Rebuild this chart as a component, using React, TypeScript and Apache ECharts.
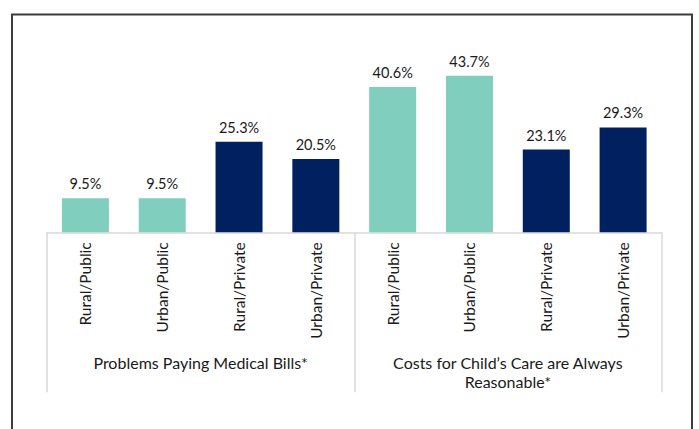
import React, { useEffect, useRef } from "react";
import * as echarts from "echarts";

const categories = [
  "Rural/Public",
  "Urban/Public",
  "Rural/Private",
  "Urban/Private",
  "Rural/Public",
  "Urban/Public",
  "Rural/Private",
  "Urban/Private",
];
const values = [9.5, 9.5, 25.3, 20.5, 40.6, 43.7, 23.1, 29.3];
const groups = [
  "Problems Paying Medical Bills*",
  "Costs for Child\u2019s Care are Always\nReasonable*",
];

const PUBLIC_COLOR = "#80CEBD";
const PRIVATE_COLOR = "#002060";

export default function App() {
  const ref = useRef<HTMLDivElement>(null);
  useEffect(() => {
    if (!ref.current) return;
    const chart = echarts.init(ref.current, undefined, { renderer: "svg" });
    const font = "Lato, 'Open Sans', sans-serif";
    chart.setOption({
      animation: false,
      backgroundColor: "#ffffff",
      grid: { left: 47, right: 37.5, top: 53.3, bottom: 196.7 },
      xAxis: [
        {
          type: "category",
          data: categories,
          axisLine: { show: true, lineStyle: { color: "#d9d9d9", width: 1.5 } },
          axisTick: { show: false },
          axisLabel: {
            interval: 0,
            rotate: 90,
            margin: 10,
            fontSize: 15.5,
            fontFamily: font,
            color: "#1a1a1a",
          },
        },
        {
          type: "category",
          data: groups,
          position: "bottom",
          axisLine: { show: false },
          axisTick: {
            show: true,
            length: 160,
            interval: 0,
            lineStyle: { color: "#d9d9d9", width: 1.5 },
          },
          axisLabel: {
            interval: 0,
            margin: 120,
            fontSize: 16,
            lineHeight: 19.5,
            fontFamily: font,
            color: "#1a1a1a",
          },
        },
      ],
      yAxis: {
        type: "value",
        min: 0,
        max: 50,
        show: false,
      },
      graphic: [
        {
          type: "rect",
          shape: { x: 12, y: 14.5, width: 680, height: 440 },
          style: { fill: "none", stroke: "#3c3c3c", lineWidth: 2 },
          silent: true,
        },
      ],
      series: [
        {
          type: "bar",
          xAxisIndex: 0,
          data: values,
          barWidth: 47,
          itemStyle: {
            color: (p: any) =>
              String(categories[p.dataIndex]).indexOf("Public") >= 0
                ? PUBLIC_COLOR
                : PRIVATE_COLOR,
          },
          label: {
            show: true,
            position: "top",
            distance: 7,
            formatter: (p: any) => p.value.toFixed(1) + "%",
            fontSize: 14.5,
            fontFamily: font,
            color: "#1a1a1a",
          },
        },
      ],
    });
    return () => chart.dispose();
  }, []);
  return (
    <div
      ref={ref}
      style={{ position: "fixed", left: 0, top: 0, width: 699, height: 429 }}
    />
  );
}
